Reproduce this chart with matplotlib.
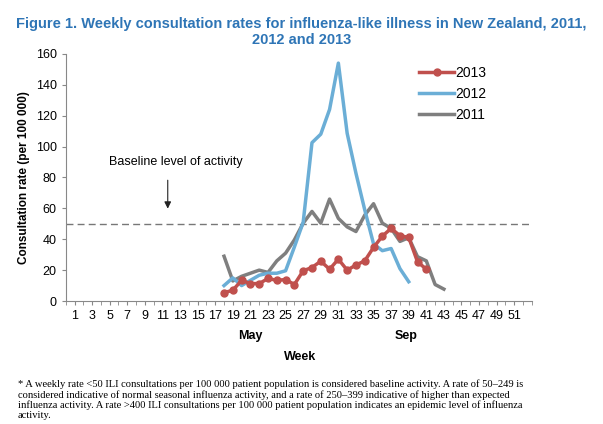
import matplotlib.pyplot as plt

# --- Data ---
weeks_2013 = list(range(18, 42))
rate_2013 = [5.4, 7, 13.4, 11.3, 11.3, 14.6, 13.4, 13.9, 10.7, 19.6, 21.7, 25.8,
             20.6, 27.1, 20, 23.3, 26, 34.7, 42, 47, 42.3, 41.2, 25.4, 20.6]
weeks_2012 = list(range(18, 40))
rate_2012 = [10, 15, 10, 13.4, 16.7, 18, 18, 19.6, 35, 51, 102.5, 108, 124, 154,
             108.6, 82.7, 59, 37, 32.6, 34, 21, 12.5]
weeks_2011 = list(range(18, 44))
rate_2011 = [29, 13, 16, 18, 20, 18.5, 26, 31, 39.6, 50.4, 58, 50.4, 66, 53.5,
             48, 45, 55.6, 63, 50.4, 47, 38.6, 41, 28.7, 26, 10.7, 7.7]
baseline = 50
xticks = list(range(1, 53, 2))

plt.rcParams['font.family'] = ['Liberation Sans', 'DejaVu Sans']

fig = plt.figure(figsize=(6.03, 4.24), dpi=100)
ax = fig.add_axes([0.109, 0.290, 0.773, 0.583])

ax.axhline(baseline, color='#777777', linestyle=(0, (5, 3)), linewidth=1)
ax.plot(weeks_2011, rate_2011, color='#7f7f7f', linewidth=2.5, label='2011', zorder=3)
ax.plot(weeks_2012, rate_2012, color='#6baed6', linewidth=2.5, label='2012', zorder=3)
ax.plot(weeks_2013, rate_2013, color='#c0504d', linewidth=2.5, marker='o',
        markersize=5, label='2013', zorder=4)

ax.set_xlim(0, 53)
ax.set_ylim(0, 160)
ax.set_yticks(range(0, 161, 20))
ax.set_xticks(xticks)
ax.set_xticks(range(0, 54), minor=True)
ax.tick_params(axis='both', labelsize=9, length=3, color='#888888')
ax.tick_params(axis='x', which='minor', length=3, color='#888888')
for s in ['top', 'right']:
    ax.spines[s].set_visible(False)
ax.spines['left'].set_color('#888888')
ax.spines['bottom'].set_color('#888888')
ax.set_ylabel('Consultation rate (per 100 000)', fontsize=8.5, fontweight='bold')

h, l = ax.get_legend_handles_labels()
ax.legend(h[::-1], l[::-1], loc='upper right', bbox_to_anchor=(0.93, 1.0),
          frameon=False, fontsize=10, handlelength=2.5, handletextpad=0.1)

ax.text(4.9, 88, 'Baseline level of activity', fontsize=9)
ax.annotate('', xy=(11.6, 58), xytext=(11.6, 80),
            arrowprops=dict(arrowstyle='-|>', color='#222222', lw=0.8))

fig.text(0.416, 0.2, 'May', fontsize=9, fontweight='bold', ha='center')
fig.text(0.673, 0.2, 'Sep', fontsize=9, fontweight='bold', ha='center')
fig.text(0.497, 0.15, 'Week', fontsize=9, fontweight='bold', ha='center')

fig.text(0.5, 0.925, 'Figure 1. Weekly consultation rates for influenza-like illness in New Zealand, 2011,\n2012 and 2013',
         fontsize=10.5, fontweight='bold', color='#2e75b6', ha='center', va='center',
         linespacing=1.2)

foot = ('* A weekly rate <50 ILI consultations per 100 000 patient population is considered baseline activity. A rate of 50\u2013249 is\n'
        'considered indicative of normal seasonal influenza activity, and a rate of 250\u2013399 indicative of higher than expected\n'
        'influenza activity. A rate >400 ILI consultations per 100 000 patient population indicates an epidemic level of influenza\n'
        'activity.')
fig.text(0.03, 0.01, foot, fontsize=7.6, family='Liberation Serif', va='bottom', linespacing=1.1)

fig.savefig('out.png', dpi=100)
